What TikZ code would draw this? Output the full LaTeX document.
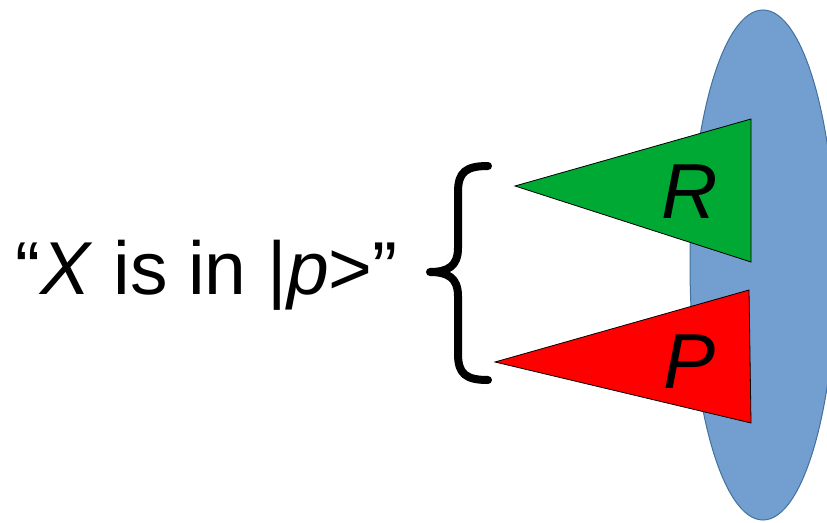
\documentclass[tikz,border=0pt]{standalone}
\usepackage{fontspec}
\setmainfont{Liberation Sans}
\begin{document}
\begin{tikzpicture}[x=1pt,y=-1pt,
  tri/.style={draw=black,line width=0.8pt,line join=miter},
  lbl/.style={font=\fontsize{78}{90}\selectfont\itshape,inner sep=0pt,anchor=base}]
\useasboundingbox (0,0) rectangle (827,522);
\clip (0,0) rectangle (827,522);
\fill[white] (0,0) rectangle (827,522);
% ellipse
\draw[fill={rgb,255:red,114;green,159;blue,207},draw={rgb,255:red,65;green,113;blue,156},line width=1pt] (763,265) ellipse [x radius=73,y radius=255];
% triangles
\draw[tri,fill={rgb,255:red,0;green,169;blue,51}] (515,186) -- (751,119) -- (751,262) -- cycle;
\draw[tri,fill=red] (495,362) -- (749,290) -- (751,423) -- cycle;
\node[lbl] (R) at (690,218) {R};
\node[lbl] (P) at (690,388) {P};
% brace
\draw[line width=8pt,line cap=round,line join=round]
  (488,166) .. controls (466,166) and (458,172) .. (458,192)
  -- (458,248) .. controls (458,266) and (448,272) .. (430,272)
  .. controls (448,272) and (458,278) .. (458,296)
  -- (458,354) .. controls (458,374) and (466,380) .. (488,380);
% text
\node[font=\fontsize{75}{90}\selectfont,inner sep=0pt,anchor=base west] (T) at (15,294) {“\textit{X} is in |\textit{p}>”};
\end{tikzpicture}
\end{document}
